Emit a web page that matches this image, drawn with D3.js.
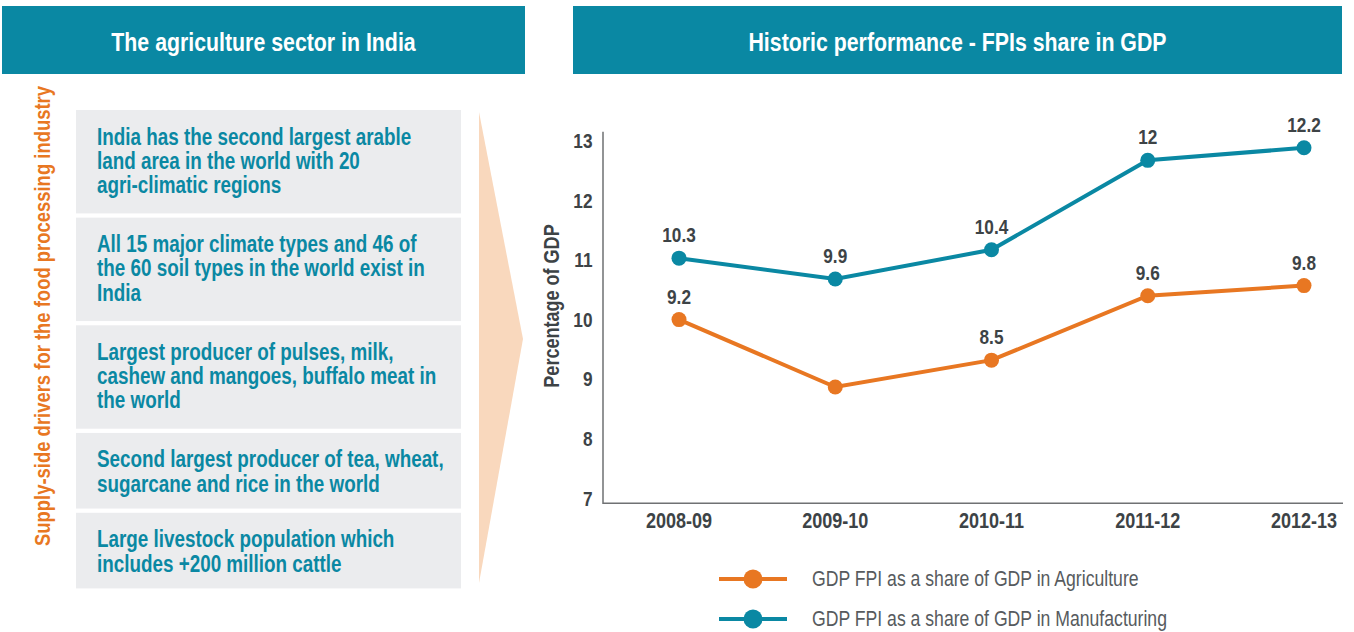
<!DOCTYPE html>
<html>
<head>
<meta charset="utf-8">
<script src="https://cdn.jsdelivr.net/npm/d3@7"></script>
<style>
  body { margin: 0; background: #fff; }
  svg { display: block; font-family: "Liberation Sans", Arial, sans-serif; }
</style>
</head>
<body>
<svg id="chart"></svg>
<script>
// ---- data ----
const leftTitle = 'The agriculture sector in India';
const rightTitle = 'Historic performance - FPIs share in GDP';
const sideLabel = 'Supply-side drivers for the food processing industry';

const drivers = [
  ['India has the second largest arable', 'land area in the world with 20', 'agri-climatic regions'],
  ['All 15 major climate types and 46 of', 'the 60 soil types in the world exist in', 'India'],
  ['Largest producer of pulses, milk,', 'cashew and mangoes, buffalo meat in', 'the world'],
  ['Second largest producer of tea, wheat,', 'sugarcane and rice in the world'],
  ['Large livestock population which', 'includes +200 million cattle']
];

const categories = ['2008-09', '2009-10', '2010-11', '2011-12', '2012-13'];
// plotted positions as read against the axis, and the labels printed beside them
const agriValues = [10.0, 8.87, 9.32, 10.40, 10.57];
const agriLabels = ['9.2', null, '8.5', '9.6', '9.8'];
const manuValues = [11.03, 10.68, 11.17, 12.67, 12.88];
const manuLabels = ['10.3', '9.9', '10.4', '12', '12.2'];
const yTicks = [7, 8, 9, 10, 11, 12, 13];
const yTitle = 'Percentage of GDP';
const legendLabels = ['GDP FPI as a share of GDP in Agriculture', 'GDP FPI as a share of GDP in Manufacturing'];

// ---- style ----
const teal = '#0a88a3';
const orange = '#e87722';
const peach = '#f9d8bd';
const boxGrey = '#ebecee';
const dark = '#3d4346';
const axisGrey = '#6f7173';
const narrow = 0.82;   // squeeze Liberation Sans to a condensed look

const width = 1354, height = 632;
const svg = d3.select('#chart').attr('width', width).attr('height', height);

// condensed text helper
function label(parent, x, y, str, size, opts = {}) {
  const rot = opts.rotate ? ` rotate(${opts.rotate})` : '';
  return parent.append('text')
      .attr('transform', `translate(${x},${y})${rot} scale(${narrow},1)`)
      .attr('text-anchor', opts.anchor || 'start')
      .attr('fill', opts.fill || dark)
      .attr('font-weight', opts.weight || 'bold')
      .attr('font-size', size)
      .text(str);
}

// ---- headers ----
const headers = [
  {x: 2, w: 523, text: leftTitle},
  {x: 573, w: 769, text: rightTitle}
];
headers.forEach(h => {
  svg.append('rect')
      .attr('x', h.x).attr('y', 6)
      .attr('width', h.w).attr('height', 68)
      .attr('fill', teal);
  label(svg, h.x + h.w / 2, 51, h.text, 26, {anchor: 'middle', fill: '#fff'});
});

// ---- left panel ----
label(svg, 50, 316, sideLabel, 22.5, {anchor: 'middle', fill: orange, rotate: -90});

const lineH = 24.3, gap = 4.25;
let boxTop = 110;
drivers.forEach(lines => {
  const h = 27.8 * lines.length + 20;
  svg.append('rect')
      .attr('x', 76).attr('y', boxTop)
      .attr('width', 385).attr('height', h)
      .attr('fill', boxGrey);
  lines.forEach((ln, i) => {
    label(svg, 97, boxTop + 34.5 + i * lineH, ln, 23, {fill: teal});
  });
  boxTop += h + gap;
});

// arrow
svg.append('path')
    .attr('d', 'M479,112 L523,339 L479,583 Z')
    .attr('fill', peach);

// ---- chart ----
const x = d3.scalePoint().domain(categories).range([679, 1304]);
const y = d3.scaleLinear().domain([6.92, 13.15]).range([503.3, 131.7]);
const xLeft = 603, xRight = 1343;

const yAxis = d3.axisLeft(y)
    .tickValues(yTicks)
    .tickSize(0)
    .tickPadding(10)
    .tickFormat(d3.format('d'));

const yAxisG = svg.append('g')
    .attr('transform', `translate(${xLeft},0)`)
    .call(yAxis)
    .attr('font-family', null)
    .attr('font-size', null);
yAxisG.select('.domain').remove();
yAxisG.selectAll('text')
    .attr('x', -10.5 / narrow)
    .attr('transform', `scale(${narrow},1)`)
    .attr('fill', dark)
    .attr('font-size', 21)
    .attr('font-weight', 'bold');

svg.append('path')
    .attr('d', `M${xLeft},${y(13.15)} V${y(6.92)} H${xRight}`)
    .attr('fill', 'none')
    .attr('stroke', axisGrey)
    .attr('stroke-width', 1.5);

label(svg, 559, 306, yTitle, 22, {anchor: 'middle', rotate: -90});

const xLabels = svg.append('g');
categories.forEach(c => label(xLabels, x(c), 528, c, 22, {anchor: 'middle'}));

const series = [
  {values: agriValues, labels: agriLabels, color: orange},
  {values: manuValues, labels: manuLabels, color: teal}
];

const line = d3.line()
    .x((d, i) => x(categories[i]))
    .y(d => y(d));

series.forEach(s => {
  const g = svg.append('g');
  g.append('path')
      .datum(s.values)
      .attr('d', line)
      .attr('fill', 'none')
      .attr('stroke', s.color)
      .attr('stroke-width', 4);
  g.selectAll('circle')
      .data(s.values)
    .join('circle')
      .attr('cx', (d, i) => x(categories[i]))
      .attr('cy', d => y(d))
      .attr('r', 7.5)
      .attr('fill', s.color);
  s.values.forEach((v, i) => {
    if (s.labels[i]) label(g, x(categories[i]), y(v) - 16, s.labels[i], 21, {anchor: 'middle'});
  });
});

// ---- legend ----
const legend = svg.append('g');
series.forEach((s, i) => {
  const ly = 579 + i * 40;
  legend.append('line')
      .attr('x1', 719).attr('x2', 787)
      .attr('y1', ly).attr('y2', ly)
      .attr('stroke', s.color)
      .attr('stroke-width', 4);
  legend.append('circle')
      .attr('cx', 753).attr('cy', ly)
      .attr('r', 9.5)
      .attr('fill', s.color);
  label(legend, 812, ly + 7, legendLabels[i], 21.5, {weight: 'normal', fill: '#575b5e'});
});
</script>
</body>
</html>
